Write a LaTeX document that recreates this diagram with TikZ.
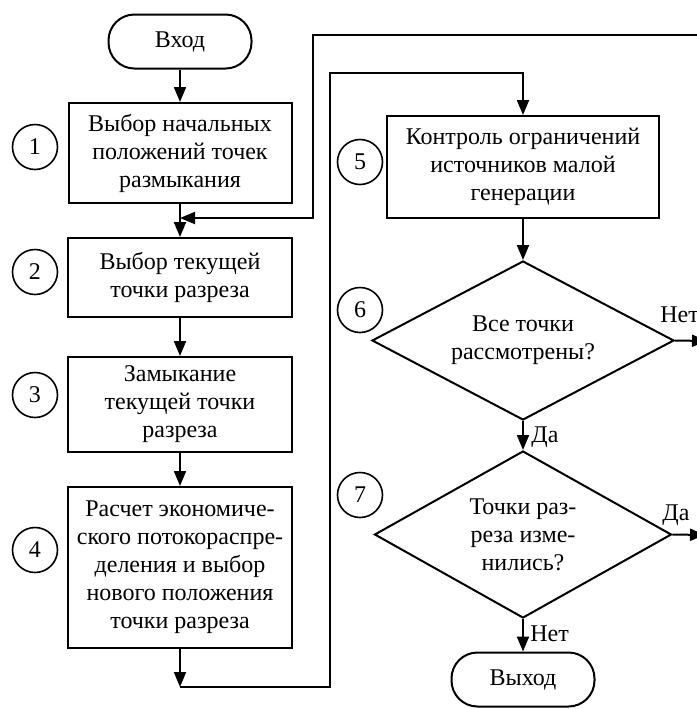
\documentclass[tikz,border=0pt]{standalone}
\usepackage{fontspec}
\setmainfont{Liberation Serif}
\usetikzlibrary{shapes,arrows.meta,positioning}
\tikzstyle{blk}=[rectangle, draw=black, line width=1pt, align=center, inner sep=2pt, font=\fontsize{12pt}{14pt}\selectfont]
\tikzstyle{term}=[rectangle, rounded corners=13pt, draw=black, line width=1pt, minimum width=71.5pt, minimum height=27pt, font=\fontsize{12pt}{14pt}\selectfont]
\tikzstyle{cond}=[diamond, draw=black, line width=1pt, inner sep=0pt, align=center, font=\fontsize{12pt}{14pt}\selectfont]
\tikzstyle{num}=[circle, draw=black, line width=0.8pt, minimum size=22.5pt, inner sep=0pt, font=\fontsize{12pt}{14pt}\selectfont]
\tikzstyle{lbl}=[inner sep=0pt, font=\fontsize{12pt}{14pt}\selectfont]
\tikzstyle{l1}=[line width=1pt, -{Triangle[length=7.5pt,width=6pt]}]

\begin{document}
\begin{tikzpicture}[x=0.5pt, y=-0.5pt]
    \useasboundingbox (0,0) rectangle (697,709);

    \node[term] at (180,41.5) (in) {Вход};
    \node[blk, minimum width=111.5pt, minimum height=50pt] at (180,153) (b1) {Выбор начальных\\положений точек\\размыкания};
    \node[blk, minimum width=112pt, minimum height=39.5pt] at (180,277.5) (b2) {Выбор текущей\\точки разреза};
    \node[blk, minimum width=112pt, minimum height=47.5pt] at (180,404.5) (b3) {Замыкание\\текущей точки\\разреза};
    \node[blk, minimum width=112pt, minimum height=80.5pt] at (180,567.5) (b4) {Расчет экономиче-\\ского потокораспре-\\деления и выбор\\нового положения\\точки разреза};

    \node[blk, minimum width=136pt, minimum height=51pt] at (523,167) (b5) {Контроль ограничений\\источников малой\\генерации};
    \node[cond, aspect=1.9, minimum width=151pt, minimum height=79.5pt] at (523,340.5) (d6) {Все точки\\рассмотрены?};
    \node[cond, aspect=1.78, minimum width=148.5pt, minimum height=83.5pt] at (523,534.5) (d7) {Точки раз-\\реза изме-\\нились?};
    \node[term] at (523,679.5) (out) {Выход};

    \node[num] at (35,147) (n1) {1};
    \node[num] at (35,272) (n2) {2};
    \node[num] at (35,395) (n3) {3};
    \node[num] at (35,550) (n4) {4};
    \node[num] at (360,162) (n5) {5};
    \node[num] at (360,310) (n6) {6};
    \node[num] at (360,495) (n7) {7};

    \coordinate (r1) at (700,35);
    \coordinate (c1) at (313,35);
    \coordinate (j1) at (180,218);
    \coordinate (c4) at (180,687);
    \coordinate (c5) at (330,73);
    \coordinate (r6) at (707,341);
    \coordinate (r7) at (705,535);

    \draw[l1] (in) -- (b1);
    \draw[l1] (b1) -- (b2);
    \draw[l1] (r1) -- (c1) |- (j1);
    \draw[l1] (b2) -- (b3);
    \draw[l1] (b3) -- (b4);
    \draw[l1] (b4) -- (c4);
    \draw[l1] (c4) -| (c5) -| (b5);
    \draw[l1] (b5) -- (d6);
    \draw[l1] (d6) -- (d7);
    \draw[l1] (d6.east) -- (r6);
    \draw[l1] (d7.east) -- (r7);
    \draw[l1] (d7) -- (out);

    \node[lbl, anchor=base west] at (531,442) (yes6) {Да};
    \node[lbl, anchor=base west] at (660,322) (no6) {Нет};
    \node[lbl, anchor=base west] at (662,520) (yes7) {Да};
    \node[lbl, anchor=base west] at (530,641) (no7) {Нет};

\end{tikzpicture}
\end{document}
